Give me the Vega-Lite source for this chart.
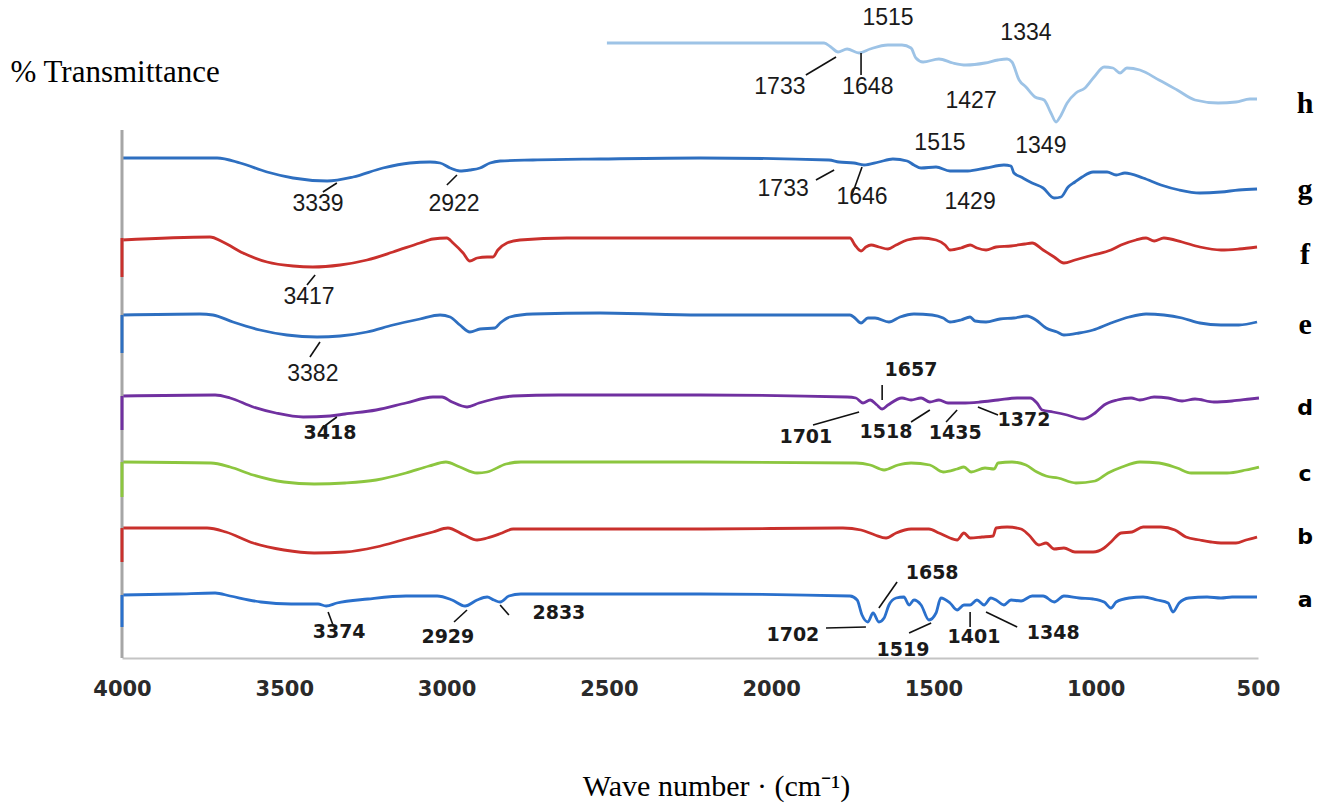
{
"$schema":"https://vega.github.io/schema/vega-lite/v6.json",
"autosize":{"type":"none"},
"width":1136,"height":658,
"padding":{"left":122,"top":0,"right":60,"bottom":146},
"background":"white",
"config":{"view":{"stroke":null}},
"datasets":{
"spec":[
{"s":"h","x":2506,"y":615},{"s":"h","x":1837,"y":615},{"s":"h","x":1816,"y":611},{"s":"h","x":1794,"y":606},{"s":"h","x":1766,"y":609},{"s":"h","x":1729,"y":605},{"s":"h","x":1695,"y":609},{"s":"h","x":1640,"y":613},{"s":"h","x":1597,"y":613},{"s":"h","x":1569,"y":610},{"s":"h","x":1554,"y":600},{"s":"h","x":1532,"y":596},{"s":"h","x":1483,"y":599},{"s":"h","x":1440,"y":595},{"s":"h","x":1400,"y":593},{"s":"h","x":1341,"y":595},{"s":"h","x":1301,"y":598},{"s":"h","x":1273,"y":599},{"s":"h","x":1258,"y":596},{"s":"h","x":1236,"y":578},{"s":"h","x":1215,"y":571},{"s":"h","x":1187,"y":561},{"s":"h","x":1159,"y":558},{"s":"h","x":1138,"y":545},{"s":"h","x":1122,"y":536},{"s":"h","x":1110,"y":541},{"s":"h","x":1088,"y":555},{"s":"h","x":1061,"y":565},{"s":"h","x":1033,"y":570},{"s":"h","x":1005,"y":581},{"s":"h","x":974,"y":591},{"s":"h","x":947,"y":590},{"s":"h","x":925,"y":585},{"s":"h","x":904,"y":590},{"s":"h","x":864,"y":588},{"s":"h","x":805,"y":578},{"s":"h","x":749,"y":568},{"s":"h","x":694,"y":558},{"s":"h","x":623,"y":555},{"s":"h","x":568,"y":556},{"s":"h","x":525,"y":559},{"s":"h","x":503,"y":559},
{"s":"g","x":4000,"y":500},{"s":"g","x":3707,"y":500},{"s":"g","x":3636,"y":495},{"s":"g","x":3553,"y":486},{"s":"g","x":3473,"y":480},{"s":"g","x":3368,"y":477},{"s":"g","x":3288,"y":481},{"s":"g","x":3196,"y":490},{"s":"g","x":3113,"y":495},{"s":"g","x":3051,"y":496},{"s":"g","x":3020,"y":495},{"s":"g","x":2989,"y":490},{"s":"g","x":2959,"y":487},{"s":"g","x":2928,"y":488},{"s":"g","x":2897,"y":490},{"s":"g","x":2866,"y":495},{"s":"g","x":2835,"y":497},{"s":"g","x":2734,"y":498},{"s":"g","x":2527,"y":499},{"s":"g","x":2219,"y":500},{"s":"g","x":1822,"y":498},{"s":"g","x":1791,"y":496},{"s":"g","x":1745,"y":495},{"s":"g","x":1714,"y":493},{"s":"g","x":1668,"y":496},{"s":"g","x":1625,"y":499},{"s":"g","x":1581,"y":497},{"s":"g","x":1560,"y":493},{"s":"g","x":1538,"y":490},{"s":"g","x":1492,"y":491},{"s":"g","x":1449,"y":487},{"s":"g","x":1394,"y":487},{"s":"g","x":1338,"y":490},{"s":"g","x":1283,"y":493},{"s":"g","x":1261,"y":492},{"s":"g","x":1252,"y":485},{"s":"g","x":1230,"y":481},{"s":"g","x":1196,"y":475},{"s":"g","x":1162,"y":470},{"s":"g","x":1128,"y":460},{"s":"g","x":1107,"y":461},{"s":"g","x":1085,"y":471},{"s":"g","x":1064,"y":476},{"s":"g","x":1042,"y":481},{"s":"g","x":1008,"y":486},{"s":"g","x":965,"y":486},{"s":"g","x":937,"y":483},{"s":"g","x":910,"y":485},{"s":"g","x":854,"y":480},{"s":"g","x":799,"y":473},{"s":"g","x":743,"y":468},{"s":"g","x":679,"y":465},{"s":"g","x":614,"y":466},{"s":"g","x":559,"y":468},{"s":"g","x":503,"y":469},
{"s":"f","x":4000,"y":418},{"s":"f","x":3729,"y":421},{"s":"f","x":3689,"y":416},{"s":"f","x":3627,"y":405},{"s":"f","x":3553,"y":396},{"s":"f","x":3473,"y":392},{"s":"f","x":3412,"y":391},{"s":"f","x":3328,"y":393},{"s":"f","x":3245,"y":398},{"s":"f","x":3165,"y":406},{"s":"f","x":3082,"y":415},{"s":"f","x":3042,"y":419},{"s":"f","x":2999,"y":420},{"s":"f","x":2980,"y":415},{"s":"f","x":2949,"y":405},{"s":"f","x":2928,"y":397},{"s":"f","x":2906,"y":400},{"s":"f","x":2875,"y":401},{"s":"f","x":2857,"y":401},{"s":"f","x":2842,"y":408},{"s":"f","x":2814,"y":415},{"s":"f","x":2774,"y":418},{"s":"f","x":2629,"y":420},{"s":"f","x":2527,"y":420},{"s":"f","x":2219,"y":420},{"s":"f","x":1757,"y":420},{"s":"f","x":1742,"y":413},{"s":"f","x":1723,"y":407},{"s":"f","x":1708,"y":411},{"s":"f","x":1692,"y":413},{"s":"f","x":1668,"y":411},{"s":"f","x":1640,"y":409},{"s":"f","x":1615,"y":413},{"s":"f","x":1581,"y":418},{"s":"f","x":1538,"y":420},{"s":"f","x":1492,"y":418},{"s":"f","x":1464,"y":413},{"s":"f","x":1449,"y":408},{"s":"f","x":1415,"y":410},{"s":"f","x":1387,"y":413},{"s":"f","x":1366,"y":410},{"s":"f","x":1338,"y":408},{"s":"f","x":1307,"y":411},{"s":"f","x":1261,"y":412},{"s":"f","x":1218,"y":414},{"s":"f","x":1196,"y":415},{"s":"f","x":1162,"y":408},{"s":"f","x":1128,"y":401},{"s":"f","x":1098,"y":395},{"s":"f","x":1064,"y":398},{"s":"f","x":1008,"y":403},{"s":"f","x":953,"y":408},{"s":"f","x":922,"y":413},{"s":"f","x":876,"y":418},{"s":"f","x":845,"y":420},{"s":"f","x":820,"y":417},{"s":"f","x":790,"y":420},{"s":"f","x":734,"y":416},{"s":"f","x":679,"y":411},{"s":"f","x":614,"y":408},{"s":"f","x":559,"y":409},{"s":"f","x":503,"y":411},
{"s":"e","x":4000,"y":343},{"s":"e","x":3760,"y":344},{"s":"e","x":3720,"y":343},{"s":"e","x":3658,"y":336},{"s":"e","x":3575,"y":328},{"s":"e","x":3492,"y":323},{"s":"e","x":3399,"y":321},{"s":"e","x":3328,"y":322},{"s":"e","x":3245,"y":326},{"s":"e","x":3165,"y":333},{"s":"e","x":3082,"y":339},{"s":"e","x":3020,"y":343},{"s":"e","x":2989,"y":341},{"s":"e","x":2959,"y":333},{"s":"e","x":2928,"y":326},{"s":"e","x":2897,"y":329},{"s":"e","x":2851,"y":330},{"s":"e","x":2835,"y":335},{"s":"e","x":2805,"y":341},{"s":"e","x":2734,"y":344},{"s":"e","x":2527,"y":345},{"s":"e","x":2219,"y":343},{"s":"e","x":1757,"y":343},{"s":"e","x":1742,"y":340},{"s":"e","x":1723,"y":335},{"s":"e","x":1702,"y":340},{"s":"e","x":1680,"y":340},{"s":"e","x":1637,"y":336},{"s":"e","x":1603,"y":341},{"s":"e","x":1560,"y":344},{"s":"e","x":1504,"y":343},{"s":"e","x":1470,"y":340},{"s":"e","x":1449,"y":336},{"s":"e","x":1415,"y":338},{"s":"e","x":1387,"y":341},{"s":"e","x":1372,"y":337},{"s":"e","x":1338,"y":336},{"s":"e","x":1295,"y":339},{"s":"e","x":1252,"y":340},{"s":"e","x":1212,"y":342},{"s":"e","x":1184,"y":338},{"s":"e","x":1153,"y":330},{"s":"e","x":1119,"y":326},{"s":"e","x":1098,"y":323},{"s":"e","x":1051,"y":325},{"s":"e","x":1008,"y":328},{"s":"e","x":953,"y":335},{"s":"e","x":897,"y":341},{"s":"e","x":845,"y":344},{"s":"e","x":790,"y":343},{"s":"e","x":734,"y":340},{"s":"e","x":679,"y":335},{"s":"e","x":614,"y":333},{"s":"e","x":559,"y":333},{"s":"e","x":503,"y":336},
{"s":"d","x":4000,"y":262},{"s":"d","x":3713,"y":263},{"s":"d","x":3667,"y":260},{"s":"d","x":3596,"y":251},{"s":"d","x":3526,"y":245},{"s":"d","x":3442,"y":241},{"s":"d","x":3359,"y":242},{"s":"d","x":3313,"y":244},{"s":"d","x":3217,"y":248},{"s":"d","x":3125,"y":255},{"s":"d","x":3042,"y":261},{"s":"d","x":3014,"y":261},{"s":"d","x":2983,"y":256},{"s":"d","x":2937,"y":251},{"s":"d","x":2900,"y":255},{"s":"d","x":2854,"y":259},{"s":"d","x":2795,"y":262},{"s":"d","x":2654,"y":263},{"s":"d","x":2219,"y":263},{"s":"d","x":1766,"y":261},{"s":"d","x":1739,"y":260},{"s":"d","x":1717,"y":255},{"s":"d","x":1695,"y":258},{"s":"d","x":1674,"y":253},{"s":"d","x":1658,"y":249},{"s":"d","x":1640,"y":253},{"s":"d","x":1597,"y":260},{"s":"d","x":1569,"y":258},{"s":"d","x":1538,"y":260},{"s":"d","x":1511,"y":256},{"s":"d","x":1483,"y":258},{"s":"d","x":1455,"y":255},{"s":"d","x":1412,"y":255},{"s":"d","x":1357,"y":256},{"s":"d","x":1301,"y":258},{"s":"d","x":1242,"y":260},{"s":"d","x":1202,"y":260},{"s":"d","x":1181,"y":255},{"s":"d","x":1165,"y":248},{"s":"d","x":1132,"y":246},{"s":"d","x":1088,"y":243},{"s":"d","x":1039,"y":239},{"s":"d","x":1002,"y":245},{"s":"d","x":974,"y":253},{"s":"d","x":934,"y":258},{"s":"d","x":891,"y":260},{"s":"d","x":864,"y":258},{"s":"d","x":820,"y":261},{"s":"d","x":777,"y":260},{"s":"d","x":734,"y":257},{"s":"d","x":694,"y":259},{"s":"d","x":636,"y":256},{"s":"d","x":580,"y":257},{"s":"d","x":525,"y":259},{"s":"d","x":497,"y":260},
{"s":"c","x":4000,"y":196},{"s":"c","x":3726,"y":195},{"s":"c","x":3667,"y":191},{"s":"c","x":3596,"y":183},{"s":"c","x":3501,"y":176},{"s":"c","x":3408,"y":174},{"s":"c","x":3313,"y":175},{"s":"c","x":3217,"y":178},{"s":"c","x":3125,"y":185},{"s":"c","x":3054,"y":192},{"s":"c","x":3002,"y":196},{"s":"c","x":2959,"y":191},{"s":"c","x":2906,"y":185},{"s":"c","x":2875,"y":186},{"s":"c","x":2817,"y":194},{"s":"c","x":2771,"y":196},{"s":"c","x":2219,"y":196},{"s":"c","x":1739,"y":195},{"s":"c","x":1695,"y":193},{"s":"c","x":1652,"y":188},{"s":"c","x":1609,"y":193},{"s":"c","x":1569,"y":195},{"s":"c","x":1511,"y":193},{"s":"c","x":1470,"y":186},{"s":"c","x":1427,"y":189},{"s":"c","x":1406,"y":191},{"s":"c","x":1384,"y":186},{"s":"c","x":1341,"y":190},{"s":"c","x":1313,"y":189},{"s":"c","x":1301,"y":195},{"s":"c","x":1258,"y":196},{"s":"c","x":1215,"y":193},{"s":"c","x":1181,"y":186},{"s":"c","x":1153,"y":182},{"s":"c","x":1116,"y":180},{"s":"c","x":1061,"y":175},{"s":"c","x":1002,"y":177},{"s":"c","x":962,"y":185},{"s":"c","x":919,"y":191},{"s":"c","x":864,"y":196},{"s":"c","x":805,"y":195},{"s":"c","x":749,"y":190},{"s":"c","x":706,"y":185},{"s":"c","x":651,"y":185},{"s":"c","x":595,"y":185},{"s":"c","x":537,"y":188},{"s":"c","x":497,"y":191},
{"s":"b","x":4000,"y":130},{"s":"b","x":3738,"y":130},{"s":"b","x":3680,"y":126},{"s":"b","x":3596,"y":115},{"s":"b","x":3501,"y":108},{"s":"b","x":3408,"y":105},{"s":"b","x":3313,"y":106},{"s":"b","x":3217,"y":111},{"s":"b","x":3125,"y":119},{"s":"b","x":3042,"y":126},{"s":"b","x":2996,"y":130},{"s":"b","x":2946,"y":123},{"s":"b","x":2906,"y":118},{"s":"b","x":2875,"y":120},{"s":"b","x":2829,"y":125},{"s":"b","x":2795,"y":129},{"s":"b","x":2219,"y":129},{"s":"b","x":1779,"y":130},{"s":"b","x":1723,"y":128},{"s":"b","x":1680,"y":123},{"s":"b","x":1646,"y":120},{"s":"b","x":1615,"y":125},{"s":"b","x":1569,"y":129},{"s":"b","x":1514,"y":129},{"s":"b","x":1483,"y":125},{"s":"b","x":1449,"y":120},{"s":"b","x":1427,"y":118},{"s":"b","x":1406,"y":125},{"s":"b","x":1387,"y":120},{"s":"b","x":1350,"y":121},{"s":"b","x":1316,"y":122},{"s":"b","x":1307,"y":130},{"s":"b","x":1273,"y":131},{"s":"b","x":1230,"y":129},{"s":"b","x":1206,"y":123},{"s":"b","x":1175,"y":113},{"s":"b","x":1153,"y":115},{"s":"b","x":1128,"y":109},{"s":"b","x":1098,"y":110},{"s":"b","x":1064,"y":106},{"s":"b","x":1008,"y":106},{"s":"b","x":974,"y":110},{"s":"b","x":953,"y":116},{"s":"b","x":922,"y":125},{"s":"b","x":888,"y":126},{"s":"b","x":854,"y":131},{"s":"b","x":799,"y":131},{"s":"b","x":756,"y":128},{"s":"b","x":722,"y":121},{"s":"b","x":679,"y":118},{"s":"b","x":645,"y":116},{"s":"b","x":614,"y":115},{"s":"b","x":568,"y":115},{"s":"b","x":537,"y":118},{"s":"b","x":503,"y":121},
{"s":"a","x":4000,"y":63},{"s":"a","x":3831,"y":64},{"s":"a","x":3713,"y":65},{"s":"a","x":3667,"y":62},{"s":"a","x":3572,"y":56},{"s":"a","x":3479,"y":54},{"s":"a","x":3396,"y":54},{"s":"a","x":3371,"y":52},{"s":"a","x":3338,"y":55},{"s":"a","x":3242,"y":59},{"s":"a","x":3125,"y":62},{"s":"a","x":3029,"y":62},{"s":"a","x":2983,"y":58},{"s":"a","x":2943,"y":52},{"s":"a","x":2906,"y":58},{"s":"a","x":2875,"y":61},{"s":"a","x":2854,"y":58},{"s":"a","x":2835,"y":56},{"s":"a","x":2808,"y":62},{"s":"a","x":2771,"y":64},{"s":"a","x":2219,"y":64},{"s":"a","x":1757,"y":62},{"s":"a","x":1735,"y":58},{"s":"a","x":1720,"y":43},{"s":"a","x":1702,"y":36},{"s":"a","x":1686,"y":45},{"s":"a","x":1668,"y":36},{"s":"a","x":1652,"y":40},{"s":"a","x":1637,"y":53},{"s":"a","x":1615,"y":60},{"s":"a","x":1591,"y":61},{"s":"a","x":1575,"y":53},{"s":"a","x":1560,"y":58},{"s":"a","x":1538,"y":53},{"s":"a","x":1514,"y":38},{"s":"a","x":1492,"y":45},{"s":"a","x":1477,"y":60},{"s":"a","x":1449,"y":55},{"s":"a","x":1427,"y":48},{"s":"a","x":1406,"y":53},{"s":"a","x":1387,"y":53},{"s":"a","x":1366,"y":58},{"s":"a","x":1344,"y":53},{"s":"a","x":1323,"y":60},{"s":"a","x":1307,"y":58},{"s":"a","x":1283,"y":53},{"s":"a","x":1261,"y":58},{"s":"a","x":1230,"y":57},{"s":"a","x":1196,"y":62},{"s":"a","x":1162,"y":62},{"s":"a","x":1128,"y":56},{"s":"a","x":1098,"y":62},{"s":"a","x":1051,"y":60},{"s":"a","x":1008,"y":59},{"s":"a","x":974,"y":56},{"s":"a","x":953,"y":50},{"s":"a","x":937,"y":56},{"s":"a","x":897,"y":60},{"s":"a","x":854,"y":61},{"s":"a","x":811,"y":58},{"s":"a","x":777,"y":55},{"s":"a","x":762,"y":46},{"s":"a","x":743,"y":55},{"s":"a","x":713,"y":60},{"s":"a","x":657,"y":61},{"s":"a","x":614,"y":60},{"s":"a","x":580,"y":61},{"s":"a","x":546,"y":61},{"s":"a","x":503,"y":61}
],
"drops":[
{"s":"f","x":4000,"y":381,"y2":420},{"s":"e","x":4000,"y":305,"y2":343},{"s":"d","x":4000,"y":228,"y2":262},{"s":"c","x":4000,"y":161,"y2":196},{"s":"b","x":4000,"y":96,"y2":130},{"s":"a","x":4000,"y":31,"y2":63}
],
"labs":[
{"t":"1515","f":"c","x":1640,"y":640},{"t":"1334","f":"c","x":1215,"y":625},{"t":"1733","f":"c","x":1973,"y":571},{"t":"1648","f":"c","x":1702,"y":571},{"t":"1427","f":"c","x":1384,"y":557},
{"t":"1515","f":"c","x":1480,"y":515},{"t":"1349","f":"c","x":1169,"y":512},{"t":"1733","f":"c","x":1963,"y":469},{"t":"1646","f":"c","x":1720,"y":461},{"t":"1429","f":"c","x":1387,"y":456},{"t":"3339","f":"c","x":3396,"y":454},{"t":"2922","f":"c","x":2977,"y":454},
{"t":"3417","f":"c","x":3424,"y":361},{"t":"3382","f":"c","x":3412,"y":284},
{"t":"3418","f":"v","x":3359,"y":225},{"t":"1657","f":"v","x":1569,"y":288},{"t":"1701","f":"v","x":1893,"y":221},{"t":"1518","f":"v","x":1646,"y":226},{"t":"1435","f":"v","x":1433,"y":225},{"t":"1372","f":"v","x":1221,"y":238},
{"t":"3374","f":"v","x":3331,"y":26},{"t":"2929","f":"v","x":2996,"y":21},{"t":"2833","f":"v","x":2654,"y":45},{"t":"1658","f":"v","x":1504,"y":85},{"t":"1702","f":"v","x":1933,"y":23},{"t":"1519","f":"v","x":1594,"y":8},{"t":"1401","f":"v","x":1375,"y":21},{"t":"1348","f":"v","x":1131,"y":25}
],
"letters":[
{"t":"h","f":"s","x":355,"y":554},{"t":"g","f":"s","x":355,"y":468},{"t":"f","f":"s","x":355,"y":403},{"t":"e","f":"s","x":355,"y":333},
{"t":"d","f":"v","x":355,"y":250},{"t":"c","f":"v","x":355,"y":184},{"t":"b","f":"v","x":355,"y":121},{"t":"a","f":"v","x":355,"y":58}
],
"leads":[
{"x":1893,"y":583,"x2":1800,"y2":601},{"x":1723,"y":605,"x2":1723,"y2":583},
{"x":3381,"y":466,"x2":3338,"y2":475},{"x":2999,"y":473,"x2":2968,"y2":483},{"x":1862,"y":478,"x2":1806,"y2":488},{"x":1751,"y":463,"x2":1720,"y2":491},
{"x":3430,"y":373,"x2":3405,"y2":383},{"x":3421,"y":301,"x2":3390,"y2":316},
{"x":3384,"y":230,"x2":3338,"y2":241},{"x":1658,"y":273,"x2":1658,"y2":258},{"x":1871,"y":233,"x2":1729,"y2":246},{"x":1569,"y":236,"x2":1511,"y2":248},{"x":1461,"y":236,"x2":1427,"y2":248},{"x":1363,"y":251,"x2":1301,"y2":243},
{"x":3365,"y":46,"x2":3350,"y2":33},{"x":2977,"y":36,"x2":2937,"y2":48},{"x":2835,"y":53,"x2":2808,"y2":43},{"x":1612,"y":76,"x2":1668,"y2":50},{"x":1831,"y":30,"x2":1708,"y2":31},{"x":1575,"y":25,"x2":1507,"y2":35},{"x":1387,"y":46,"x2":1387,"y2":31},{"x":1338,"y":46,"x2":1242,"y2":31}
]
},
"encoding":{
  "x":{"field":"x","type":"quantitative","scale":{"domain":[4000,500],"nice":false,"zero":false},
   "axis":{"values":[4000,3500,3000,2500,2000,1500,1000,500],"format":"d","ticks":false,"grid":false,"domainColor":"#c4c4c4","domainWidth":2,
    "labelFont":"DejaVu Sans","labelFontWeight":"bold","labelFontSize":21,"labelColor":"#2a2a2a","labelPadding":20,"labelFlush":false,"labelOverlap":false,
    "title":"Wave number · (cm⁻¹)","titleFont":"Liberation Serif","titleFontSize":30,"titleFontWeight":"normal","titleColor":"#000000",
    "titleX":594,"titleY":137,"titleAlign":"center","titleBaseline":"alphabetic"}},
  "y":{"field":"y","type":"quantitative","scale":{"domain":[0,658],"nice":false,"zero":false},
   "axis":{"domain":false,"ticks":false,"labels":false,"grid":false,
    "title":"% Transmittance","titleFont":"Liberation Serif","titleFontSize":31,"titleFontWeight":"normal","titleColor":"#000000",
    "titleAngle":0,"titleX":-112,"titleY":72,"titleAlign":"left","titleBaseline":"middle"}}
},
"layer":[
{"data":{"name":"spec"},
 "mark":{"type":"line","strokeWidth":2.8,"interpolate":"monotone","strokeJoin":"round"},
 "encoding":{
  "color":{"field":"s","type":"nominal","legend":null,
   "scale":{"domain":["a","b","c","d","e","f","g","h"],"range":["#2a70cc","#c9302c","#8cc63f","#7030a0","#2e6fc0","#c9302c","#2e6fc0","#9dc3e6"]}}
 }},
{"data":{"values":[{"x":4000,"y":0,"y2":528}]},
 "mark":{"type":"rule","color":"#a6a6a6","strokeWidth":3},
 "encoding":{"y2":{"field":"y2"}}},
{"data":{"name":"drops"},
 "mark":{"type":"rule","strokeWidth":3},
 "encoding":{"y2":{"field":"y2"},"color":{"field":"s","type":"nominal","legend":null}}},
{"data":{"name":"leads"},
 "mark":{"type":"rule","color":"#111111","strokeWidth":1.6},
 "encoding":{"x2":{"field":"x2"},"y2":{"field":"y2"}}},
{"data":{"name":"labs"},
 "transform":[{"filter":"datum.f == 'c'"}],
 "mark":{"type":"text","font":"Liberation Sans","fontSize":23,"color":"#1a1a1a","align":"center","baseline":"middle"},
 "encoding":{"text":{"field":"t"}}},
{"data":{"name":"labs"},
 "transform":[{"filter":"datum.f == 'v'"}],
 "mark":{"type":"text","font":"DejaVu Sans","fontSize":19,"fontWeight":"bold","color":"#1a1a1a","align":"center","baseline":"middle"},
 "encoding":{"text":{"field":"t"}}},
{"data":{"name":"letters"},
 "transform":[{"filter":"datum.f == 's'"}],
 "mark":{"type":"text","font":"Liberation Serif","fontSize":30,"fontWeight":"bold","color":"#000000","align":"center","baseline":"middle"},
 "encoding":{"text":{"field":"t"}}},
{"data":{"name":"letters"},
 "transform":[{"filter":"datum.f == 'v'"}],
 "mark":{"type":"text","font":"DejaVu Sans","fontSize":22,"fontWeight":"bold","color":"#000000","align":"center","baseline":"middle"},
 "encoding":{"text":{"field":"t"}}}
]
}
